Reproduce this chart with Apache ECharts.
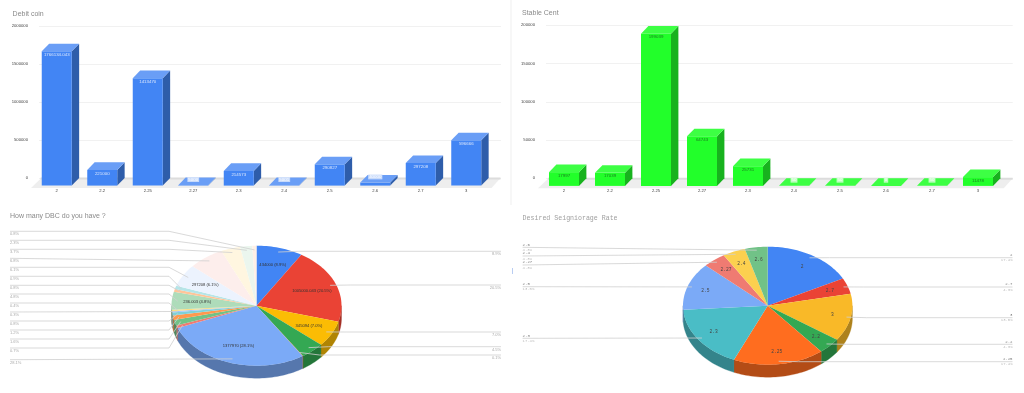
<!DOCTYPE html>
<html>
<head>
<meta charset="utf-8">
<style>html,body{margin:0;padding:0;background:#fff}#c{width:1024px;height:393px}</style>
<script src="https://cdn.jsdelivr.net/npm/echarts@6/dist/echarts.min.js"></script>
</head>
<body>
<div id="c"></div>
<script>
// ---- data ----
const barCategories = ['2','2.2','2.25','2.27','2.3','2.4','2.5','2.6','2.7','3'];
const debitValues = [1766134.043,206000,1413470,5000,193000,5001,280000,40000,297208,596666];
const debitLabels = ['1766134.043','221000','1413470','5000','214573','5001','290827','40000','297208','596666'];
const stableValues = [17997,17039,199039,64743,25731,50,50,0,50,11478];
const stableLabels = ['17997','17039','199039','64743','25731','50','50','0','50','11478'];

const dbcValues = [434000,1005000.043,345094,220000,5000,1377970,34000,78000,59000,39000,15000,20000,236003,39000,44000,297208,333000,181000,113000,39000];
const dbcPercents = ['8.9%','20.5%','7.0%','4.5%','0.1%','28.1%','0.7%','1.6%','1.2%','0.8%','0.3%','0.4%','4.8%','0.8%','0.9%','6.1%','6.8%','3.7%','2.3%','0.8%'];
const dbcInner = ['434000 (8.9%)','1005000.043 (20.5%)','345094 (7.0%)','','','1377970 (28.1%)','','','','','','','236.003 (4.8%)','','','297208 (6.1%)','','','',''];
const dbcColors = ['#4285f4','#ea4335','#fbbc04','#34a853','#ff6d01','#7baaf7','#f07b72','#71c287','#ff994d','#7ed1d7','#a1c2fa','#fdde83','#aedcba','#ffc599','#b5e5e8','#ecf3fe','#fdeeec','#fff6e0','#ebf6ee','#fff0e6'];

const rateNames = ['2','2.7','3','2.2','2.25','2.3','2.5','2.27','2.4','2.6'];
const rateValues = [4,1,3,1,4,4,3,1,1,1];
const ratePercents = ['17.4%','4.3%','13.0%','4.3%','17.4%','17.4%','13.0%','4.3%','4.3%','4.3%'];
const rateColors = ['#4285f4','#ea4335','#f9b928','#34a853','#ff6d1f','#4abdc6','#7baaf7','#ef7b72','#fcd04f','#71c287'];

// ---- layout of the tilted pies and their callouts ----
const dbcPie = {cx:256.5,cy:305.7,rx:85,ry:60,depth:12.5,innerR:.7,anchorR:.93};
const ratePie = {cx:767.7,cy:305.7,rx:84.7,ry:59,depth:12.5,innerR:.78,anchorR:.95};
const dbcSlots = {0:[1,251.3],1:[1,285],2:[1,332],3:[1,346.7],4:[1,355],5:[0,359.7],6:[0,348],7:[0,339],8:[0,330],9:[0,321],10:[0,312],11:[0,303],12:[0,294],13:[0,285.3],14:[0,276.3],15:[0,267.3],16:[0,258.3],17:[0,249.3],18:[0,240.3],19:[0,231.3]};
const rateSlots = {0:[1,257.7],1:[1,287],2:[1,317.7],3:[1,344.3],4:[1,361.7],5:[0,338.3],6:[0,286.7],7:[0,265],8:[0,256],9:[0,247.3]};

const SANS = '"Liberation Sans", Arial, sans-serif';
const MONO = '"Liberation Mono", monospace';
const DX = 7.4, DY = 7.6;

function shade(hex,f){
  const n=parseInt(hex.slice(1),16);
  const c=[n>>16,(n>>8)&255,n&255].map(v=>Math.round(v*f));
  return `rgb(${c.join(',')})`;
}

// ---- 3D bars: every box is placed by the axes' api.coord ----
function barSeries(x,values,labels,front,top,side,textColor,chip,floorEnds){
  return [{
    type:'custom',xAxisIndex:x,yAxisIndex:x,z:1,silent:true,data:[[0,0]],
    renderItem(p,api){
      const cs=p.coordSys, y0=api.coord([0,0])[1];
      return {type:'group',children:[
        {type:'polygon',shape:{points:[[cs.x-3,y0+10],[cs.x+floorEnds[0],y0],[cs.x+cs.width+floorEnds[1],y0],[cs.x+cs.width+floorEnds[1]-9,y0+10]]},style:{fill:'#eeeeee'}},
        {type:'rect',shape:{x:cs.x+floorEnds[0]-.8,y:y0-.5,width:cs.width+floorEnds[1]-floorEnds[0]+.8,height:2},style:{fill:'#dcdcdc'}}
      ]};
    }
  },{
    type:'custom',xAxisIndex:x,yAxisIndex:x,z:2,silent:true,
    encode:{x:0,y:1},
    data:values.map((v,i)=>[i,v]),
    renderItem(p,api){
      const i=api.value(0), back=api.coord([i,api.value(1)]), base=api.coord([i,0]);
      const w=30, l=back[0]-w/2, r=back[0]+w/2;
      const ft=back[1]+DY, fb=base[1]+DY, small=fb-ft<6;
      return {type:'group',children:[
        {type:'polygon',shape:{points:[[r,ft],[r+DX,ft-DY],[r+DX,fb-DY],[r,fb]]},style:{fill:side}},
        {type:'rect',shape:{x:l,y:ft,width:w,height:Math.max(fb-ft,0)},style:{fill:front}},
        {type:'polygon',shape:{points:[[l,ft],[l+DX,ft-DY],[r+DX,ft-DY],[r,ft]]},style:{fill:top}},
        {type:'text',x:back[0],y:small?ft-5.7:ft+3.4,style:{text:labels[i],fontFamily:SANS,fontSize:4.4,fill:small?'#ffffff':textColor,align:'center',verticalAlign:'middle',
          backgroundColor:small?chip:'transparent',padding:small?[.5,1]:0}}
      ]};
    }
  }];
}

// ---- tilted pies: every slice angle comes from its value ----
function arc(P,a0,a1,dy){
  const n=Math.max(2,Math.ceil((a1-a0)/0.03)), pts=[];
  for(let k=0;k<=n;k++){const a=a0+(a1-a0)*k/n;pts.push([P.cx+P.rx*Math.sin(a),P.cy-P.ry*Math.cos(a)+dy]);}
  return pts;
}
function spans(values){
  const sum=values.reduce((a,b)=>a+b,0);let acc=0;
  return values.map(v=>{const s=acc/sum*2*Math.PI;acc+=v;return [s,acc/sum*2*Math.PI];});
}
function at(P,a,r){return [P.cx+r*P.rx*Math.sin(a),P.cy-r*P.ry*Math.cos(a)];}

function pieFaces(P,values,colors){
  const sp=spans(values);
  return {type:'custom',coordinateSystem:'none',z:3,silent:true,data:values.map((v,i)=>[v,i]),
    renderItem(p,api){
      const i=api.value(1),[a0,a1]=sp[i],kids=[];
      const f0=Math.max(a0,Math.PI/2),f1=Math.min(a1,Math.PI*1.5);
      if(f1>f0){
        const topArc=arc(P,f0,f1,0),botArc=arc(P,f0,f1,P.depth).reverse();
        kids.push({type:'polygon',shape:{points:topArc.concat(botArc)},style:{fill:shade(colors[i],.7),stroke:shade(colors[i],.7),lineWidth:.3}});
      }
      kids.push({type:'polygon',shape:{points:[[P.cx,P.cy]].concat(arc(P,a0,a1,0))},style:{fill:colors[i]}});
      return {type:'group',children:kids};
    }};
}
function callouts(P,values,slots,edgeL,edgeR,elbowL,drawText,innerText){
  const sp=spans(values);
  return {type:'custom',coordinateSystem:'none',z:4,silent:true,data:values.map((v,i)=>[v,i]),
    renderItem(p,api){
      const i=api.value(1),[a0,a1]=sp[i],mid=(a0+a1)/2,[side,y]=slots[i];
      const A=at(P,mid,P.anchorR),kids=[];
      let pts;
      if(side){pts=[A,[A[0]+Math.min(20,edgeR-A[0]),y],[edgeR,y]];}
      else if(Math.abs(A[1]-y)<3){pts=[[edgeL,y],A];}
      else{pts=[[edgeL,y],[elbowL,y],A];}
      kids.push({type:'polyline',shape:{points:pts},style:{fill:null,stroke:'#cfcfcf',lineWidth:.8}});
      drawText(i,side,y,kids);
      const t=innerText(i);
      if(t){const I=at(P,mid,P.innerR);kids.push({type:'text',x:I[0],y:I[1],style:{text:t.text,font:t.font,fill:t.fill,align:'center',verticalAlign:'middle'}});}
      return {type:'group',children:kids};
    }};
}

const dbcSeries = [
  pieFaces(dbcPie,dbcValues,dbcColors),
  callouts(dbcPie,dbcValues,dbcSlots,10,501,169,(i,side,y,kids)=>{
    kids.push({type:'text',x:side?501:10,y:y+3,style:{text:dbcPercents[i],font:'4px '+SANS,fill:'#aaaaaa',align:side?'right':'left',verticalAlign:'middle'}});
  },i=>dbcInner[i]?{text:dbcInner[i],font:'4.1px '+SANS,fill:'#333333'}:null)
];
const rateSeries = [
  pieFaces(ratePie,rateValues,rateColors),
  callouts(ratePie,rateValues,rateSlots,522.6,1012.5,678,(i,side,y,kids)=>{
    const x=side?1012.5:522.6,al=side?'right':'left';
    kids.push({type:'text',x,y:y-2.7,style:{text:rateNames[i],font:'4px '+MONO,fill:'#777777',align:al,verticalAlign:'middle'}});
    kids.push({type:'text',x,y:y+2.7,style:{text:ratePercents[i],font:'3.9px '+MONO,fill:'#bbbbbb',align:al,verticalAlign:'middle'}});
  },i=>({text:rateNames[i],font:'4.6px '+MONO,fill:'#444444'}))
];

// ---- axes ----
function xAxisBar(idx,show){
  return {type:'category',gridIndex:idx,data:barCategories,show,axisLine:{show:false},axisTick:{show:false},splitLine:{show:false},
    axisLabel:{interval:0,margin:11,fontSize:4.2,fontFamily:SANS,color:'#444444'}};
}
function yAxisBar(idx,max,step,show){
  return {type:'value',gridIndex:idx,min:0,max,interval:step,show,axisLine:{show:false},axisTick:{show:false},
    splitLine:{show,lineStyle:{color:'#f1f1f1',width:1}},
    axisLabel:{margin:11,fontSize:4.2,fontFamily:SANS,color:'#444444',formatter:v=>String(v)}};
}

const titleStyle=(size,family,color)=>({fontSize:size,fontWeight:'normal',fontFamily:family,color});
const option = {
  animation:false,backgroundColor:'#ffffff',
  title:[
    {text:'Debit coin',left:12.6,top:10.8,padding:0,textStyle:titleStyle(7,SANS,'#8a8a8a')},
    {text:'Stable Cent',left:522,top:9.8,padding:0,textStyle:titleStyle(7,SANS,'#8a8a8a')},
    {text:'How many DBC do you have ?',left:10,top:212.8,padding:0,textStyle:titleStyle(7,SANS,'#8a8a8a')},
    {text:'Desired Seigniorage Rate',left:522.6,top:214.4,padding:0,textStyle:titleStyle(6.6,MONO,'#a0a0a0')}
  ],
  grid:[
    {left:34,width:455,top:26,height:152},
    {left:541,width:460,top:25.3,height:153},
    {left:39,width:462,top:26,height:152},
    {left:546,width:466.7,top:25.3,height:153}
  ],
  xAxis:[xAxisBar(0,true),xAxisBar(1,true),xAxisBar(2,false),xAxisBar(3,false)],
  yAxis:[yAxisBar(0,2000000,500000,false),yAxisBar(1,200000,50000,false),yAxisBar(2,2000000,500000,true),yAxisBar(3,200000,50000,true)],
  graphic:[
    {type:'line',shape:{x1:511,y1:0,x2:511,y2:205},style:{stroke:'#efefef',lineWidth:1}},
    {type:'line',shape:{x1:512.5,y1:268,x2:512.5,y2:274},style:{stroke:'#b9cdf2',lineWidth:1}}
  ],
  series:[
    ...barSeries(0,debitValues,debitLabels,'#4285f4','#6a9ef6','#2e5daa','#dbe7fd','rgba(215,228,252,.85)',[7.4,11.5]),
    ...barSeries(1,stableValues,stableLabels,'#22ff2a','#3dff44','#18b21e','#1b7a20','rgba(210,255,212,.85)',[7.7,11.7]),
    ...dbcSeries,
    ...rateSeries
  ]
};
echarts.init(document.getElementById('c'),null,{renderer:'canvas'}).setOption(option);
</script>
</body>
</html>
